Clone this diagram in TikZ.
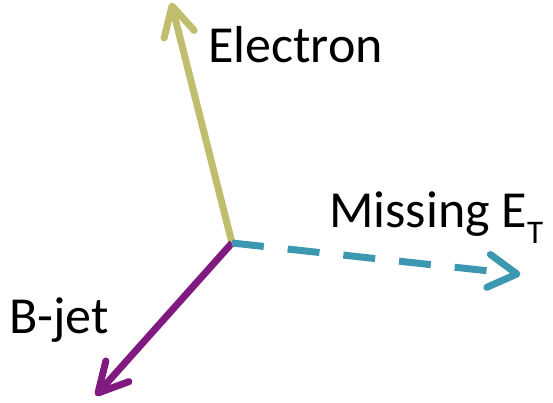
\documentclass[tikz,border=0pt]{standalone}
\usepackage{fontspec}
\setmainfont{Carlito}
\usetikzlibrary{calc}
\definecolor{eleccol}{RGB}{192,190,110}
\definecolor{jetcol}{RGB}{128,26,128}
\definecolor{metcol}{RGB}{60,152,176}
\tikzset{
  vec/.style={line width=7pt},
  head/.style={line width=7pt, line cap=round, line join=round},
  lbl/.style={inner sep=0pt, anchor=base west, font=\fontsize{52}{62}\selectfont}
}
\begin{document}
\begin{tikzpicture}[x=1pt,y=-1pt]
\useasboundingbox (0,0) rectangle (553,403);
\coordinate (o) at (232,243);
\coordinate (etip) at (172,6);
\coordinate (mtip) at (517,274);
\coordinate (btip) at (98,393);
% electron
\draw[vec, eleccol, line cap=butt] (o) -- (etip);
\draw[head, eleccol] ($(etip)!33pt!28:(o)$) -- (etip) -- ($(etip)!33pt!-28:(o)$);
% b-jet
\draw[vec, jetcol] (o) -- (btip);
\draw[head, jetcol] ($(btip)!33pt!28:(o)$) -- (btip) -- ($(btip)!33pt!-28:(o)$);
% missing ET
\draw[vec, metcol, dash pattern=on 32pt off 24pt] (o) -- (mtip);
\draw[head, metcol] ($(mtip)!33pt!30:(o)$) -- (mtip) -- ($(mtip)!33pt!-30:(o)$);
% labels
\node[lbl] (el) at (208,63) {Electron};
\node[lbl] (me) at (329,227) {Missing E\raisebox{-16pt}{\fontsize{33}{33}\selectfont T}};
\node[lbl] (bj) at (9,333) {B-jet};
\end{tikzpicture}
\end{document}
